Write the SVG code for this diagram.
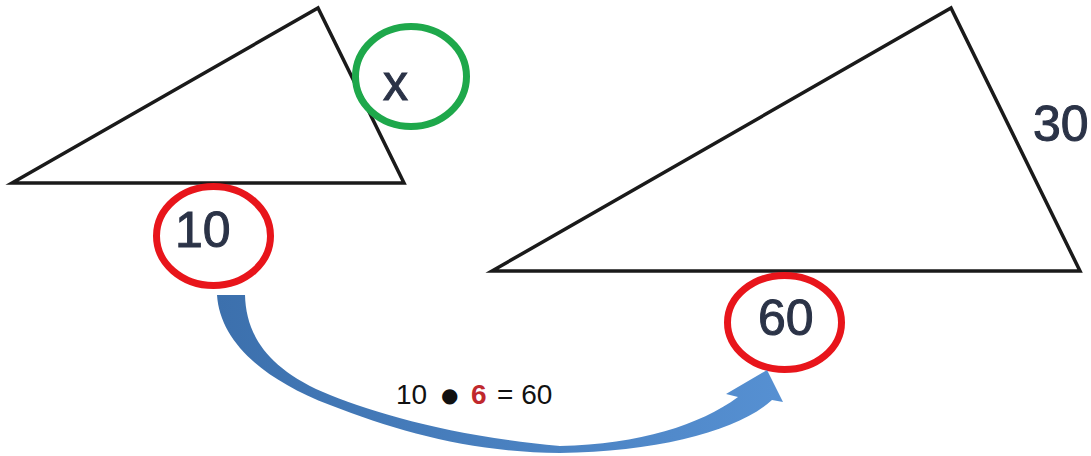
<svg xmlns="http://www.w3.org/2000/svg" width="1091" height="456" viewBox="0 0 1091 456">
  <style>
    .tri { fill: none; stroke: #1a1a1a; stroke-width: 3.5; stroke-linejoin: miter; }
    .red { fill: none; stroke: #e8151b; stroke-width: 7; }
    .green { fill: none; stroke: #1ea84b; stroke-width: 7; }
    .lbl { font-family: "Liberation Sans", Arial, sans-serif; font-size: 50px; fill: #2b3347; stroke: #2b3347; stroke-width: 1; }
    .eq { font-family: "Liberation Sans", Arial, sans-serif; font-size: 28px; fill: #111111; }
  </style>
  <defs>
    <linearGradient id="blue" x1="0" y1="0" x2="1" y2="0">
      <stop offset="0" stop-color="#3c70ad"/>
      <stop offset="1" stop-color="#5690d2"/>
    </linearGradient>
  </defs>
  <rect width="1091" height="456" fill="#ffffff"/>

  <g id="small-triangle">
    <polygon class="tri" points="12,183 318,8 404,183"/>
  </g>
  <g id="large-triangle">
    <polygon class="tri" points="492,271 951,8 1080,271"/>
  </g>

  <g id="label-x">
    <ellipse class="green" cx="411" cy="76.5" rx="55.5" ry="50"/>
    <text class="lbl" x="383" y="100" font-size="47">x</text>
  </g>
  <g id="label-10">
    <ellipse class="red" cx="213.5" cy="236" rx="57" ry="49.5"/>
    <text class="lbl" x="175" y="247">10</text>
  </g>
  <g id="label-60">
    <ellipse class="red" cx="784.5" cy="322.5" rx="57" ry="47"/>
    <text class="lbl" x="758" y="335">60</text>
  </g>
  <g id="label-30">
    <text class="lbl" x="1033" y="141">30</text>
  </g>

  <g id="connectors">
    <path fill="url(#blue)" d="M 217 295 L 245 295 C 246 330 262 365 323 392 C 370 412 450 436 560 446 C 640 444 700 425 738 397 L 726 394 L 767 370 L 783 402 L 772 400 C 740 430 660 452 560 453 C 470 452 400 432 330 405 C 260 378 220 340 217 295 Z"/>
  </g>

  <g id="equation">
    <text class="eq" y="404"><tspan x="396">10</tspan><tspan x="441" y="402" font-family="DejaVu Sans" font-size="20">●</tspan><tspan x="471" y="404" fill="#c0282d" font-weight="bold">6</tspan><tspan x="497">= 60</tspan></text>
  </g>
</svg>
